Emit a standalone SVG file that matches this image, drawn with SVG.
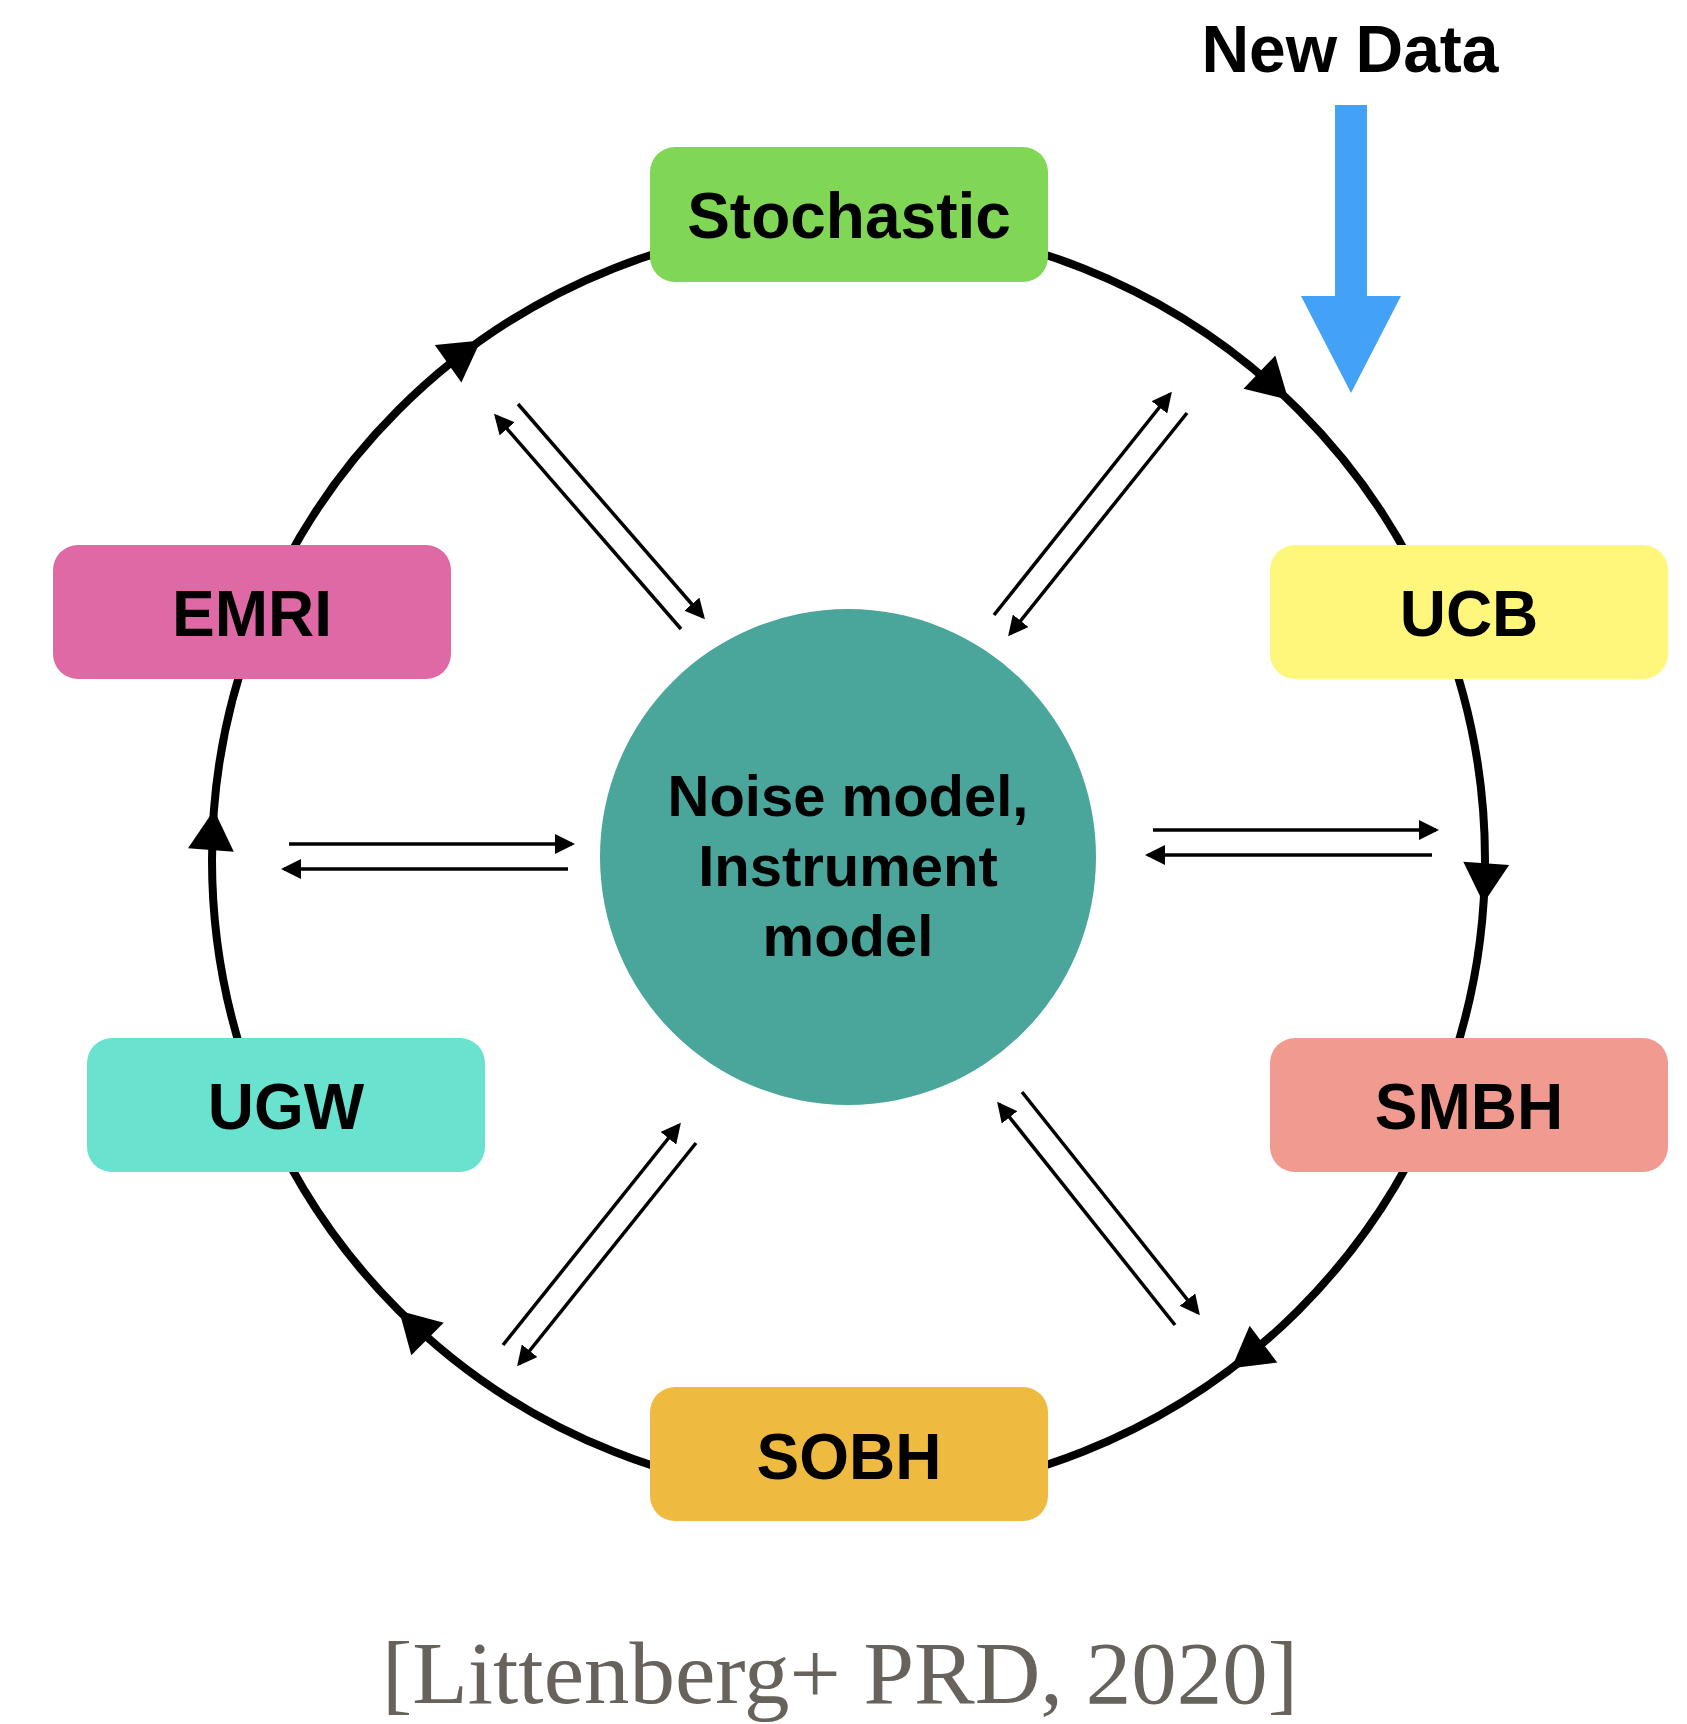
<svg xmlns="http://www.w3.org/2000/svg" width="1687" height="1724" viewBox="0 0 1687 1724">
  <style>
    .lbl { font-family: "Liberation Sans", Arial, sans-serif; font-weight: bold; font-size: 64px; fill: #000; text-anchor: middle; }
    .mid { font-family: "Liberation Sans", Arial, sans-serif; font-weight: bold; font-size: 58px; fill: #000; text-anchor: middle; }
    .ring { fill: none; stroke: #000; stroke-width: 8; }
    .head { fill: #000; stroke: none; }
    .thin { fill: none; stroke: #000; stroke-width: 3.5; marker-end: url(#ah); }
    .box { stroke: none; }
  </style>
  <defs>
    <marker id="ah" markerUnits="userSpaceOnUse" markerWidth="20" markerHeight="20" refX="17" refY="10" orient="auto">
      <path d="M0,0 L20,10 L0,20 z" fill="#000"/>
    </marker>
  </defs>
  <rect width="1687" height="1724" fill="#fff"/>

  <g id="connectors">
    <circle class="ring" cx="848.5" cy="860" r="636.5"/>
    <polygon class="head" points="1288.3,399.8 1275.3,355.6 1243.5,388.8"/>
    <polygon class="head" points="1483.5,903.3 1509.1,865.0 1463.3,861.8"/>
    <polygon class="head" points="1231.5,1368.3 1277.3,1362.6 1249.6,1325.8"/>
    <polygon class="head" points="399.2,1310.8 411.3,1355.3 443.7,1322.7"/>
    <polygon class="head" points="214.0,810.1 188.0,848.2 233.8,851.8"/>
    <polygon class="head" points="480.7,340.6 434.8,344.9 461.4,382.5"/>

    <line class="thin" x1="681" y1="629" x2="496" y2="416"/>
    <line class="thin" x1="518" y1="404" x2="703" y2="617"/>
    <line class="thin" x1="994" y1="615" x2="1170" y2="394"/>
    <line class="thin" x1="1187" y1="413" x2="1010" y2="634"/>
    <line class="thin" x1="289" y1="844" x2="572" y2="844"/>
    <line class="thin" x1="568" y1="869" x2="284" y2="869"/>
    <line class="thin" x1="1153" y1="830" x2="1436" y2="830"/>
    <line class="thin" x1="1432" y1="855" x2="1148" y2="855"/>
    <line class="thin" x1="503" y1="1345" x2="679" y2="1125"/>
    <line class="thin" x1="696" y1="1143" x2="519" y2="1364"/>
    <line class="thin" x1="1175" y1="1325" x2="999" y2="1104"/>
    <line class="thin" x1="1022" y1="1092" x2="1198" y2="1313"/>
  </g>

  <g id="new-data">
    <text class="lbl" x="1350" y="72" style="font-size:66px">New Data</text>
    <polygon points="1335,105 1367,105 1367,296 1401,296 1351,393 1301,296 1335,296" fill="#44A2F6"/>
  </g>

  <g id="stochastic">
    <rect class="box" x="650" y="147" width="398" height="135" rx="25" fill="#80D655"/>
    <text class="lbl" x="849" y="238">Stochastic</text>
  </g>
  <g id="ucb">
    <rect class="box" x="1270" y="545" width="398" height="134" rx="25" fill="#FEF77C"/>
    <text class="lbl" x="1469" y="636">UCB</text>
  </g>
  <g id="emri">
    <rect class="box" x="53" y="545" width="398" height="134" rx="25" fill="#DE69A5"/>
    <text class="lbl" x="252" y="636">EMRI</text>
  </g>
  <g id="ugw">
    <rect class="box" x="87" y="1038" width="398" height="134" rx="25" fill="#69E3D0"/>
    <text class="lbl" x="286" y="1129">UGW</text>
  </g>
  <g id="smbh">
    <rect class="box" x="1270" y="1038" width="398" height="134" rx="25" fill="#F09A90"/>
    <text class="lbl" x="1469" y="1129">SMBH</text>
  </g>
  <g id="sobh">
    <rect class="box" x="650" y="1387" width="398" height="134" rx="25" fill="#EEBB40"/>
    <text class="lbl" x="849" y="1479">SOBH</text>
  </g>

  <g id="noise-model">
    <circle cx="848" cy="857" r="248" fill="#4AA59B"/>
    <text class="mid" x="848" y="816">Noise model,</text>
    <text class="mid" x="848" y="886">Instrument</text>
    <text class="mid" x="848" y="956">model</text>
  </g>

  <text x="840" y="1703" font-family="'Liberation Serif', 'Times New Roman', serif" font-size="88" fill="#67635C" text-anchor="middle" textLength="916" lengthAdjust="spacingAndGlyphs">[Littenberg+ PRD, 2020]</text>
</svg>
